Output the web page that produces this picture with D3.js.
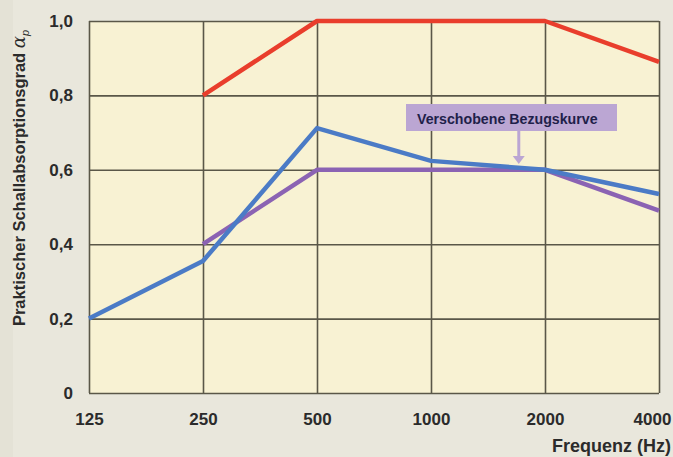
<!DOCTYPE html>
<html><head><meta charset="utf-8">
<script src="https://cdn.jsdelivr.net/npm/d3@7"></script>
<style>body{margin:0;background:#e7e5da;}svg{display:block;font-family:"Liberation Sans",Arial,sans-serif;}</style>
</head><body>
<script>
const categories = ["125","250","500","1000","2000","4000"];
const yTicks = [0,0.2,0.4,0.6,0.8,1.0];
const redValues = [null,0.80,1.00,1.00,1.00,0.89];
const blueValues = [0.20,0.355,0.712,0.624,0.60,0.535];
const purpleValues = [null,0.40,0.60,0.60,0.60,0.49];
const annotationText = "Verschobene Bezugskurve";
const annotationAt = {cat:1.77, value:0.61};

const W=673,H=457;
const m={left:89,right:14,top:21,bottom:64};
const svg=d3.select("body").append("svg").attr("width",W).attr("height",H);
svg.append("rect").attr("width",W).attr("height",H).attr("fill","#e4e2d6");
svg.append("rect").attr("x",13).attr("y",0).attr("width",W-13).attr("height",H).attr("fill","#e9e7dc");

const x=d3.scalePoint().domain(categories).range([m.left,W-m.right]);
const y=d3.scaleLinear().domain([0,1]).range([H-m.bottom,m.top]);

svg.append("rect").attr("x",m.left).attr("y",m.top).attr("width",W-m.right-m.left).attr("height",H-m.bottom-m.top).attr("fill","#f8f2d3");

const gx=svg.append("g").attr("transform",`translate(0,${H-m.bottom})`)
  .call(d3.axisBottom(x).tickSize(-(H-m.top-m.bottom)).tickPadding(20));
const gy=svg.append("g").attr("transform",`translate(${m.left},0)`)
  .call(d3.axisLeft(y).tickValues(yTicks).tickSize(-(W-m.left-m.right)).tickPadding(16)
  .tickFormat(d=>d===0?"0":d3.format(".1f")(d).replace(".",",")));
[gx,gy].forEach(g=>{
  g.select(".domain").remove();
  g.selectAll("line").attr("stroke","#5a5748").attr("stroke-width",1.6);
  g.selectAll("text").attr("fill","#2b2b2b").attr("font-size",17).attr("font-weight","bold");
});
gx.selectAll(".tick:last-of-type text").attr("dx",-7);

const line=d3.line().defined(d=>d.v!=null).x(d=>x(d.c)).y(d=>y(d.v));
const mk=arr=>arr.map((v,i)=>({c:categories[i],v}));
[[purpleValues,"#8b63b3"],[blueValues,"#4b7bc6"],[redValues,"#e93e2c"]].forEach(([vals,col])=>{
  svg.append("path").datum(mk(vals)).attr("d",line).attr("fill","none").attr("stroke",col)
    .attr("stroke-width",4.5).attr("stroke-linejoin","round");
});

// annotation
const ax=x("1000")+(x("2000")-x("1000"))*(annotationAt.cat-1);
const bx=406,bw=211,by=104,bh=27;
svg.append("rect").attr("x",bx).attr("y",by).attr("width",bw).attr("height",bh).attr("fill","#bba6d3");
svg.append("text").attr("x",bx+11).attr("y",by+20).attr("font-size",14.2).attr("font-weight","bold").attr("fill","#1f1f4a").text(annotationText);
const ay=y(annotationAt.value)-2;
svg.append("line").attr("x1",ax).attr("x2",ax).attr("y1",by+bh).attr("y2",ay-6).attr("stroke","#bba6d3").attr("stroke-width",3);
svg.append("path").attr("d",`M${ax-6},${ay-8}L${ax+6},${ay-8}L${ax},${ay}Z`).attr("fill","#bba6d3");

// titles
svg.append("text").attr("x",W-2).attr("y",452).attr("text-anchor","end").attr("font-size",18).attr("font-weight","bold").attr("fill","#2b2b2b").text("Frequenz (Hz)");
const yt=svg.append("text").attr("transform","translate(25,178) rotate(-90)").attr("text-anchor","middle").attr("font-size",16.5).attr("font-weight","bold").attr("fill","#2b2b2b");
yt.append("tspan").text("Praktischer Schallabsorptionsgrad ");
yt.append("tspan").attr("font-style","italic").attr("font-weight","normal").attr("font-family","DejaVu Serif, serif").attr("font-size",18).text("α");
yt.append("tspan").attr("font-style","italic").attr("font-weight","normal").attr("font-size",11).attr("dy",4).text("p");
</script>
</body></html>
